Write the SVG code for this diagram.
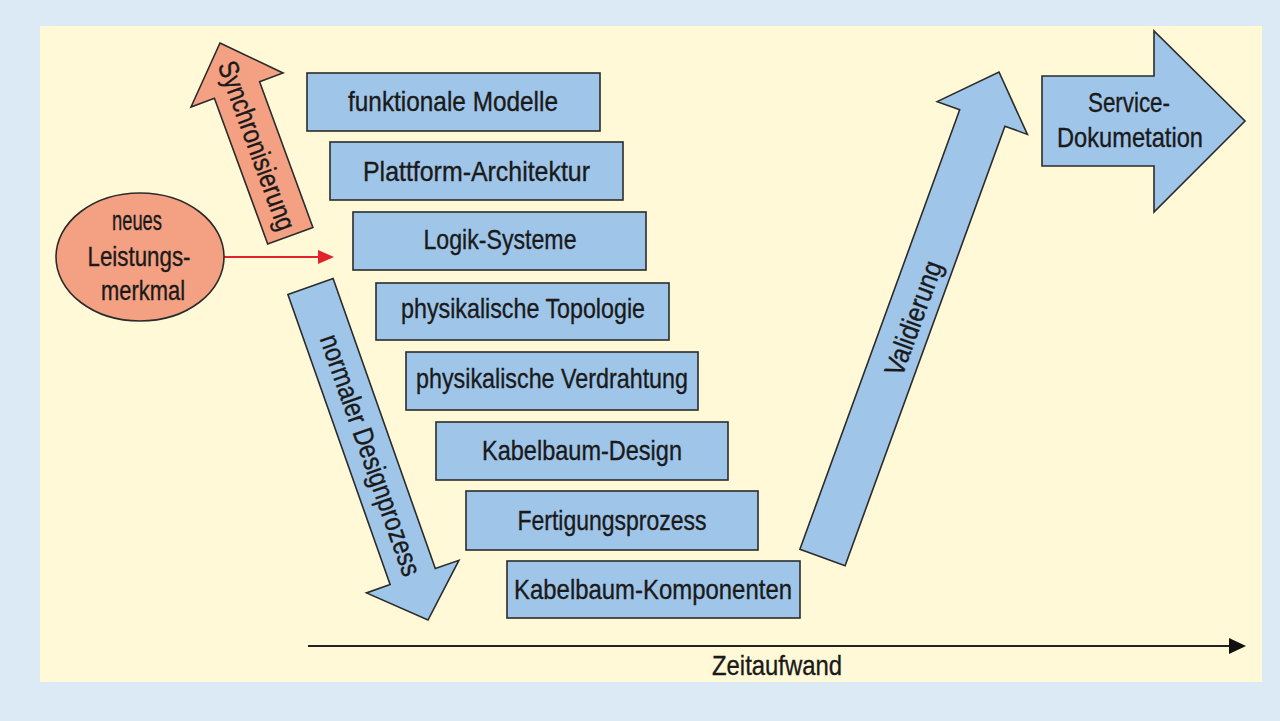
<svg xmlns="http://www.w3.org/2000/svg" width="1280" height="721" viewBox="0 0 1280 721">
<style>
.box{fill:#9fc5e8;stroke:#2b2b2b;stroke-width:1.6}
.sal{fill:#f3a083;stroke:#2b2b2b;stroke-width:1.6}
.t{font-family:"Liberation Sans",Arial,sans-serif;font-size:28px;fill:#1a1a1a;stroke:#1a1a1a;stroke-width:0.35;text-anchor:middle}
</style>
<rect x="0" y="0" width="1280" height="721" fill="#dceaf6"/>
<rect x="40" y="26" width="1222" height="656" fill="#fff9d8"/>
<g id="connectors">
  <line x1="224" y1="257" x2="320" y2="257" stroke="#e0242a" stroke-width="2.2"/>
  <polygon points="318,250 334,257 318,264" fill="#e0242a"/>
  <line x1="308" y1="646" x2="1232" y2="646" stroke="#222" stroke-width="1.8"/>
  <polygon points="1229,638 1246,646 1229,654" fill="#111"/>
</g>
<g id="axis-label"><text class="t" x="777" y="675" textLength="130" lengthAdjust="spacingAndGlyphs">Zeitaufwand</text></g>
<g id="ellipse-neues">
  <ellipse class="sal" cx="140" cy="257" rx="84" ry="64"/>
  <text class="t" x="137" y="230" textLength="50" lengthAdjust="spacingAndGlyphs">neues</text>
  <text class="t" x="139" y="266" textLength="103" lengthAdjust="spacingAndGlyphs">Leistungs-</text>
  <text class="t" x="143" y="300" textLength="84" lengthAdjust="spacingAndGlyphs">merkmal</text>
</g>
<g id="arrow-sync">
  <polygon class="sal" points="220,43 283,73 259.6,81.8 312.9,227.5 267.7,243.9 214.4,98.2 191,107"/>
  <text class="t" transform="translate(257.4,145.5) rotate(70)" x="0" y="10" textLength="178" lengthAdjust="spacingAndGlyphs">Synchronisierung</text>
</g>
<g id="arrow-design">
  <polygon class="box" points="287.9,294.5 333.1,278.5 435.3,568.6 458.9,560.3 428,620 366.5,592.9 390.1,584.6"/>
  <text class="t" transform="translate(371,455) rotate(70.6)" x="0" y="10" textLength="254" lengthAdjust="spacingAndGlyphs">normaler Designprozess</text>
</g>
<g id="arrow-valid">
  <polygon class="box" points="799.9,549.3 959.7,109.8 937.2,101.65 999,72 1027.4,134.4 1004.9,126.2 845.1,565.7"/>
  <text class="t" transform="translate(913,318) rotate(-70)" x="0" y="10" textLength="120" lengthAdjust="spacingAndGlyphs">Validierung</text>
</g>
<g id="arrow-service">
  <polygon class="box" points="1042,76 1154,76 1154,31 1245,121 1154,212 1154,166 1042,166"/>
  <text class="t" x="1129" y="112" textLength="82" lengthAdjust="spacingAndGlyphs">Service-</text>
  <text class="t" x="1130" y="147" textLength="146" lengthAdjust="spacingAndGlyphs">Dokumetation</text>
</g>
<g id="box1"><rect class="box" x="307" y="73" width="293" height="58"/><text class="t" x="453" y="111" textLength="210" lengthAdjust="spacingAndGlyphs">funktionale Modelle</text></g>
<g id="box2"><rect class="box" x="330" y="142" width="293" height="58"/><text class="t" x="476.5" y="181" textLength="227" lengthAdjust="spacingAndGlyphs">Plattform-Architektur</text></g>
<g id="box3"><rect class="box" x="353" y="212" width="293" height="58"/><text class="t" x="500" y="249" textLength="153" lengthAdjust="spacingAndGlyphs">Logik-Systeme</text></g>
<g id="box4"><rect class="box" x="376" y="283" width="293" height="57"/><text class="t" x="523" y="318" textLength="244" lengthAdjust="spacingAndGlyphs">physikalische Topologie</text></g>
<g id="box5"><rect class="box" x="406" y="352" width="292" height="58"/><text class="t" x="552" y="388" textLength="272" lengthAdjust="spacingAndGlyphs">physikalische Verdrahtung</text></g>
<g id="box6"><rect class="box" x="436" y="422" width="292" height="58"/><text class="t" x="582" y="460" textLength="200" lengthAdjust="spacingAndGlyphs">Kabelbaum-Design</text></g>
<g id="box7"><rect class="box" x="466" y="491" width="292" height="59"/><text class="t" x="612" y="530" textLength="189" lengthAdjust="spacingAndGlyphs">Fertigungsprozess</text></g>
<g id="box8"><rect class="box" x="507" y="561" width="293" height="57"/><text class="t" x="653" y="599" textLength="278" lengthAdjust="spacingAndGlyphs">Kabelbaum-Komponenten</text></g>
</svg>
